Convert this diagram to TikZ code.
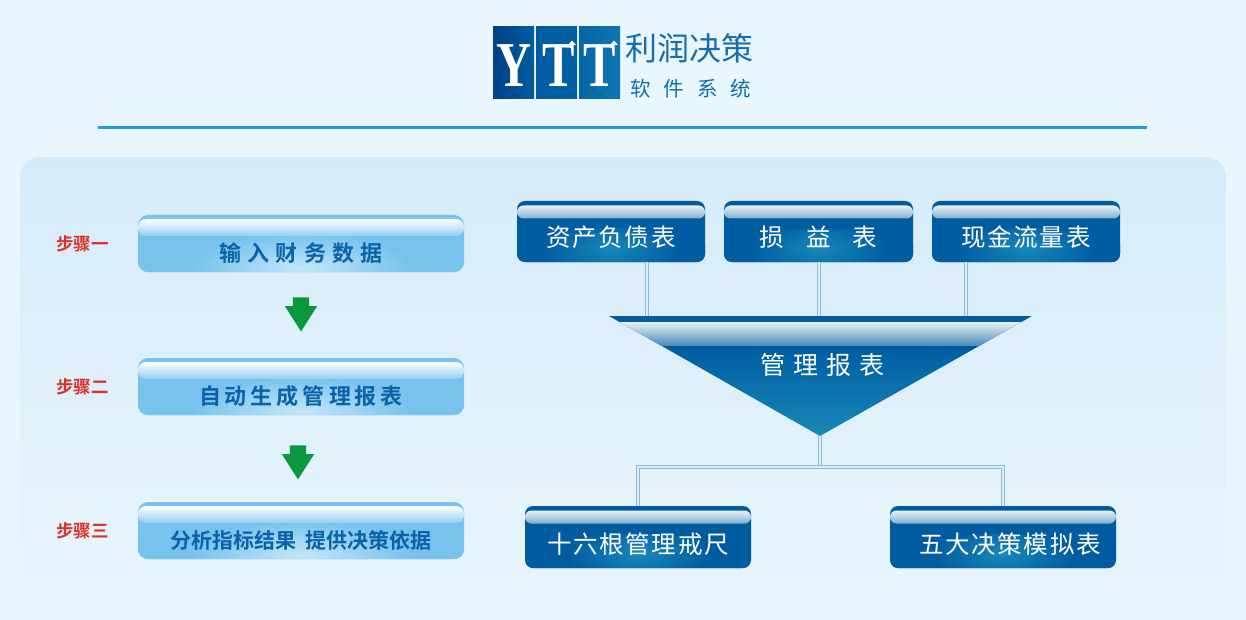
\documentclass[tikz,border=0pt]{standalone}
\usepackage{fontspec}
\usetikzlibrary{positioning,shapes.arrows}
\newfontfamily\cjkfont{Noto Sans CJK SC}
\newfontfamily\cjkwide[LetterSpace=7]{Noto Sans CJK SC}
\newfontfamily\cjkbold{Noto Sans CJK SC Bold}
\newfontfamily\logofont{Liberation Serif}
\definecolor{pagetop}{RGB}{233,246,254}
\definecolor{panelblue}{RGB}{214,235,249}
\definecolor{panellow}{RGB}{232,245,253}
\definecolor{sheetblue}{RGB}{0,92,160}
\definecolor{sheetglow}{RGB}{24,136,186}
\definecolor{stepblue}{RGB}{120,195,238}
\definecolor{stepglow}{RGB}{196,230,249}
\definecolor{steptext}{RGB}{10,98,168}
\definecolor{logotext}{RGB}{22,110,175}
\definecolor{rulecyan}{RGB}{30,158,216}
\definecolor{stepred}{RGB}{217,48,42}
\definecolor{arrowgreen}{RGB}{8,152,62}
\definecolor{linkblue}{RGB}{140,186,222}
\definecolor{linklight}{RGB}{220,237,249}
\pgfdeclareradialshading{sheetshine}{\pgfpointorigin}{color(0bp)=(sheetglow); color(16bp)=(sheetblue); color(50bp)=(sheetblue)}
\pgfdeclareradialshading{stepshine}{\pgfpointorigin}{color(0bp)=(stepglow); color(16bp)=(stepblue); color(50bp)=(stepblue)}
% text sits below the middle of a box
\newcommand{\boxtext}[2]{\raisebox{#1}[0pt][0pt]{#2}}
\tikzset{
    sheetbox/.style={rounded corners=8pt, fill=sheetblue, inner sep=0pt, text=white,
        path picture={
            \shade[shading=sheetshine] (path picture bounding box.south) ellipse (110pt and 34pt);
            \shade[top color=white!92!sheetblue, bottom color=sheetblue!50!white, rounded corners=6.4pt]
                ([yshift=-4.5pt]path picture bounding box.north west) rectangle ([yshift=-17.5pt]path picture bounding box.north east);
        }},
    stepbox/.style={rounded corners=10pt, fill=stepblue, inner sep=0pt, text=steptext,
        minimum width=326pt, minimum height=57pt,
        path picture={
            \shade[shading=stepshine] (path picture bounding box.south) ellipse (170pt and 50pt);
            \shade[top color=white, bottom color=stepblue!80!white, rounded corners=8pt]
                ([yshift=-4pt]path picture bounding box.north west) rectangle ([yshift=-21pt]path picture bounding box.north east);
        }},
    steplabel/.style={text=stepred, font=\cjkbold\fontsize{17.5}{19}\selectfont},
    downarrow/.style={single arrow, fill=arrowgreen, inner sep=8pt, rotate=-90,
        minimum height=34pt, minimum width=32pt, single arrow head extend=8pt, single arrow tip angle=65},
    link/.style={draw=linkblue, line width=4pt, postaction={draw=linklight, line width=1.4pt}},
    logosquare/.style={minimum width=41pt, minimum height=72pt, inner sep=0pt},
    logoletter/.style={text=white, font=\logofont\bfseries\fontsize{64}{64}\selectfont, xscale=.76, inner sep=0pt}
}
\begin{document}
\begin{tikzpicture}[x=1pt,y=-1pt]
    \useasboundingbox (0,0) rectangle (1246,620);
    % Page and panel
    \shade[top color=pagetop, bottom color=panellow] (0,0) rectangle (1246,620);
    \shade[top color=panelblue, bottom color=panellow, rounded corners=20pt] (20,157) rectangle (1226,600);

    % Logo
    \node[logosquare, left color=blue!30!black!30!sheetblue, right color=sheetblue] (logoY) at (513.5,63) {};
    \node[logosquare, left color=sheetblue, right color=sheetblue!90!sheetglow] (logoT) at (556.5,63) {};
    \node[logosquare, left color=sheetblue!80!sheetglow, right color=sheetglow!60!sheetblue] (logoTT) at (599.5,63) {};
    \node[logoletter] (letterY) at (514,65.5) {Y};
    \node[logoletter] (letterT) at (559,65.5) {T};
    \node[logoletter] (letterTT) at (600,65.5) {T};
    \fill[white] (568,45) -- (572,40.5) -- (576,45) -- cycle;
    \fill[white] (610,45) -- (614,40.5) -- (618,45) -- cycle;
    \node[text=logotext, font=\cjkfont\fontsize{32}{34}\selectfont, inner sep=0pt] (logoname) at (689.5,48.5) {利润决策};
    \node[text=logotext, font=\cjkfont\fontsize{20.5}{24}\selectfont, inner sep=0pt] (logosub) at (690.5,88.5)
        {软\hspace{13pt}件\hspace{13pt}系\hspace{13pt}统};
    \fill[rulecyan] (98,126.5) rectangle (1147,129.5);

    % Steps
    \node[steplabel] (labelA) at (82.5,244) {步骤一};
    \node[steplabel] (labelB) at (82.5,387) {步骤二};
    \node[steplabel] (labelC) at (82.5,531) {步骤三};
    \node[stepbox] (stepA) at (301,243.5) {\boxtext{-18pt}{\cjkbold\fontsize{22}{24}\selectfont 输\hspace{6.4pt}入\hspace{6.4pt}财\hspace{6.4pt}务\hspace{6.4pt}数\hspace{6.4pt}据}};
    \node[stepbox] (stepB) at (301,386.5) {\boxtext{-17.5pt}{\cjkbold\fontsize{22}{24}\selectfont 自\hspace{4pt}动\hspace{4pt}生\hspace{4pt}成\hspace{4pt}管\hspace{4pt}理\hspace{4pt}报\hspace{4pt}表}};
    \node[stepbox] (stepC) at (301,530.5) {\boxtext{-17.5pt}{\cjkbold\fontsize{21}{24}\selectfont 分析指标结果\hspace{10pt}提供决策依据}};
    \node[downarrow] (arrowA) at (301,308) {};
    \node[downarrow] (arrowB) at (298,456) {};

    % Statements
    \node[sheetbox, minimum width=188pt, minimum height=61pt] (sheetA) at (611,231.5) {\boxtext{-14.5pt}{\cjkwide\fontsize{24.5}{26}\selectfont 资产负债表}};
    \node[sheetbox, minimum width=189pt, minimum height=61pt] (sheetB) at (818.5,231.5) {\boxtext{-14.5pt}{\cjkfont\fontsize{24.5}{26}\selectfont 损\hspace{22pt}益\hspace{22pt}表}};
    \node[sheetbox, minimum width=188pt, minimum height=61pt] (sheetC) at (1026,231.5) {\boxtext{-14.5pt}{\cjkwide\fontsize{24.5}{26}\selectfont 现金流量表}};

    % Report funnel
    \coordinate (joinA) at (647,316);
    \coordinate (joinB) at (819,316);
    \coordinate (joinC) at (966,316);
    \coordinate (funnelL) at (609,316);
    \coordinate (funnelR) at (1032,316);
    \coordinate (funneltip) at (820,436);
    \coordinate (hub) at (820,467);
    \draw[link] (sheetA.south -| joinA) -- (joinA);
    \draw[link] (sheetB.south -| joinB) -- (joinB);
    \draw[link] (sheetC.south -| joinC) -- (joinC);
    \begin{scope}
        \clip (funnelL) -- (funnelR) -- (funneltip) -- cycle;
        \fill[sheetblue] (600,316) rectangle (1040,345);
        \shade[top color=sheetblue, bottom color=sheetglow] (600,345) rectangle (1040,437);
        \shade[top color=white!92!sheetblue, bottom color=sheetblue!70!white] (600,322) rectangle (1040,345);
    \end{scope}
    \node[text=white, font=\fontsize{25}{27}\selectfont\cjkfont, inner sep=0pt] (report) at (822.5,365) {管\hspace{8pt}理\hspace{8pt}报\hspace{8pt}表};

    % Tools
    \node[sheetbox, minimum width=226pt, minimum height=62pt] (rulers) at (638,537) {\boxtext{-16.5pt}{\cjkwide\fontsize{24.5}{26}\selectfont 十六根管理戒尺}};
    \node[sheetbox, minimum width=226pt, minimum height=62pt] (models) at (1003,537) {\boxtext{-16.5pt}{\hspace*{14pt}\cjkwide\fontsize{24.5}{26}\selectfont 五大决策模拟表}};
    \draw[link] (funneltip) -- (hub);
    \draw[link] (rulers.north) |- (hub) -| (models.north);
\end{tikzpicture}
\end{document}
